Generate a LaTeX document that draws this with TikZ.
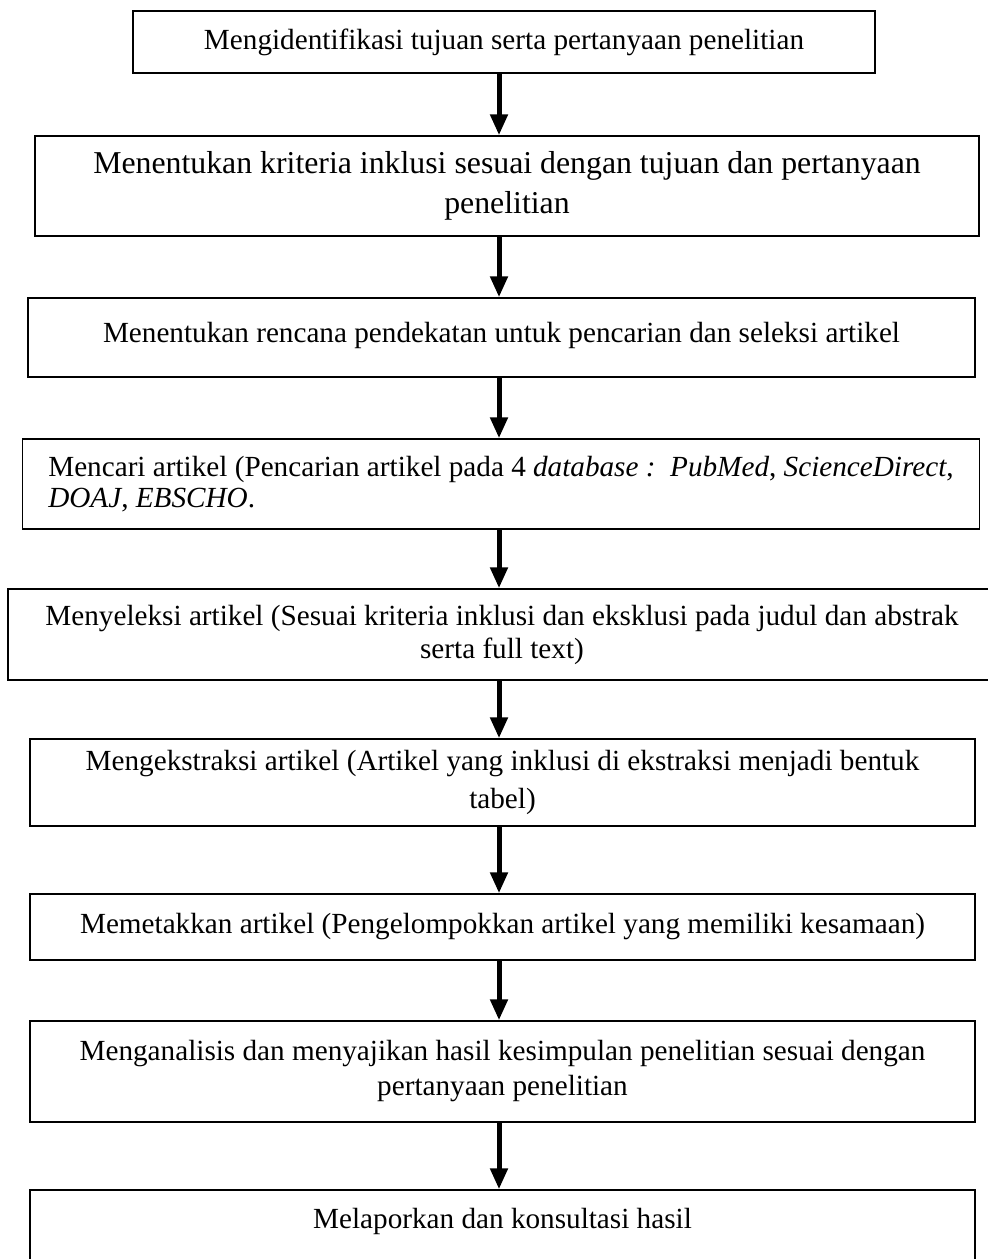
\documentclass[tikz,border=0pt]{standalone}
\usepackage{fontspec}
\setmainfont{Liberation Serif}
\usetikzlibrary{arrows.meta}
\begin{document}
\begin{tikzpicture}[x=1pt,y=1pt,
  box/.style={draw=black, line width=1.5pt, rectangle, inner sep=0pt, align=center,
    font=\fontsize{29.2}{34}\selectfont},
  arr/.style={line width=5pt, -{Triangle[width=17pt,length=21pt]}}]
\useasboundingbox (0,0) rectangle (988,-1259);
\coordinate (ax) at (499,0);
\node[box, minimum width=742, minimum height=62] (b1) at (504,-42)
  {Mengidentifikasi tujuan serta pertanyaan penelitian};
\node[box, minimum width=944, minimum height=100, font=\fontsize{31.8}{40}\selectfont] (b2) at (507,-186)
  {Menentukan kriteria inklusi sesuai dengan tujuan dan pertanyaan\\ penelitian};
\node[box, minimum width=947, minimum height=79] (b3) at (501.5,-337.5)
  {Menentukan rencana pendekatan untuk pencarian dan seleksi artikel\\[-24pt]\mbox{}};
\node[box, minimum width=957, minimum height=90, align=left, font=\fontsize{29.2}{31}\selectfont] (b4) at (501,-484)
  {Mencari artikel (Pencarian artikel pada 4 \textit{database} \textit{:\ \ PubMed}, \textit{ScienceDirect},\\ \textit{DOAJ}, \textit{EBSCHO}.};
\node[box, minimum width=988, minimum height=91, font=\fontsize{29.2}{33}\selectfont] (b5) at (502,-634.5)
  {Menyeleksi artikel (Sesuai kriteria inklusi dan eksklusi pada judul dan abstrak\\ serta full text)};
\node[box, minimum width=945, minimum height=87, font=\fontsize{29.2}{38}\selectfont] (b6) at (502.5,-782.5)
  {Mengekstraksi artikel (Artikel yang inklusi di ekstraksi menjadi bentuk\\ tabel)};
\node[box, minimum width=945, minimum height=66] (b7) at (502.5,-927)
  {Memetakkan artikel (Pengelompokkan artikel yang memiliki kesamaan)};
\node[box, minimum width=945, minimum height=101, font=\fontsize{29.2}{35}\selectfont] (b8) at (502.5,-1071.5)
  {Menganalisis dan menyajikan hasil kesimpulan penelitian sesuai dengan\\ pertanyaan penelitian};
\node[box, minimum width=945, minimum height=75] (b9) at (502.5,-1227.5)
  {Melaporkan dan konsultasi hasil\\[-16pt]\mbox{}};
\draw[arr] (b1.south -| ax) -- (b2.north -| ax);
\draw[arr] (b2.south -| ax) -- (b3.north -| ax);
\draw[arr] (b3.south -| ax) -- (b4.north -| ax);
\draw[arr] (b4.south -| ax) -- (b5.north -| ax);
\draw[arr] (b5.south -| ax) -- (b6.north -| ax);
\draw[arr] (b6.south -| ax) -- (b7.north -| ax);
\draw[arr] (b7.south -| ax) -- (b8.north -| ax);
\draw[arr] (b8.south -| ax) -- (b9.north -| ax);
\end{tikzpicture}
\end{document}
